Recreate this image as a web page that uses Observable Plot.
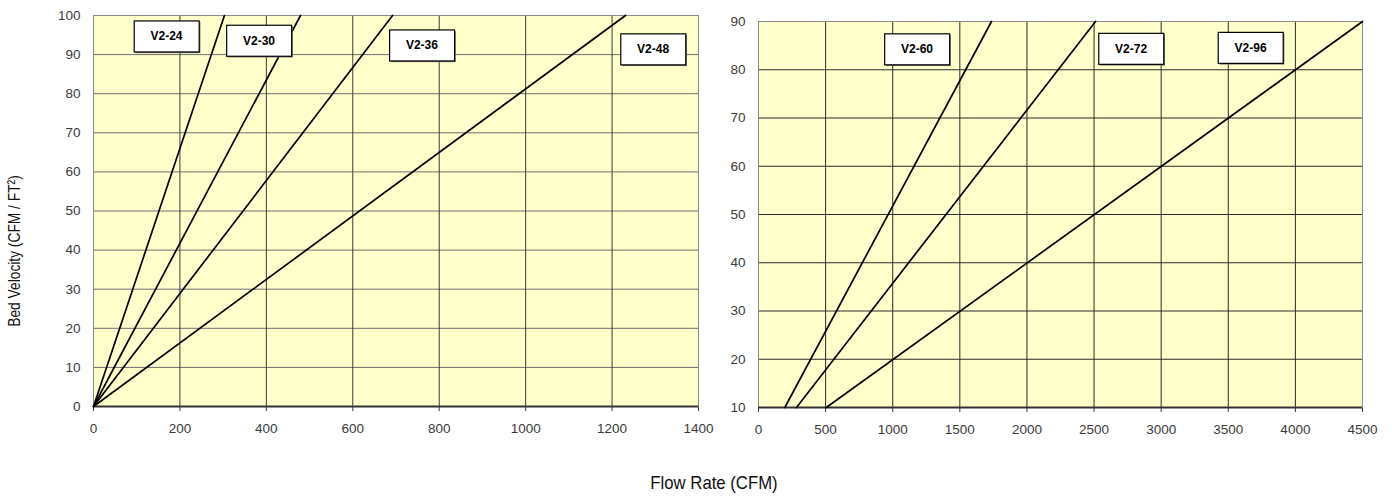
<!DOCTYPE html>
<html><head><meta charset="utf-8">
<script src="https://cdn.jsdelivr.net/npm/d3@7"></script>
<script src="https://cdn.jsdelivr.net/npm/@observablehq/plot@0.6"></script>
<style>
body{margin:0;background:#fff;font-family:"Liberation Sans",Arial,sans-serif;}
#wrap{position:relative;width:1392px;height:503px;overflow:hidden;}
#left{position:absolute;left:0;top:0;}
#right{position:absolute;left:730px;top:0;}
#ytitle{position:absolute;left:15px;top:251px;transform:translate(-50%,-50%) rotate(-90deg) scaleX(0.81);white-space:nowrap;font-size:17px;font-family:"Liberation Sans",Arial,sans-serif;color:#111;}
#xtitle{position:absolute;left:714px;top:483px;transform:translate(-50%,-50%) scaleX(0.88);white-space:nowrap;font-size:19px;font-family:"Liberation Sans",Arial,sans-serif;color:#111;}
</style></head>
<body>
<div id="wrap">
  <div id="left"></div>
  <div id="right"></div>
  <div id="ytitle">Bed Velocity (CFM / FT²)</div>
  <div id="xtitle">Flow Rate (CFM)</div>
</div>
<script>
// ---- Data ----
const leftSeries = ["V2-24", "V2-30", "V2-36", "V2-48"];
const leftStartFlow = [0, 0, 0, 0];
const leftStartVel = [0, 0, 0, 0];
const leftEndFlow = [303, 479, 692, 1231];
const leftEndVel = [100, 100, 100, 100];
const leftLabelFlow = [169, 383, 760, 1295];
const leftLabelVel = [94.6, 93.5, 92.3, 91.3];
const leftXTicks = [0, 200, 400, 600, 800, 1000, 1200, 1400];
const leftYTicks = [0, 10, 20, 30, 40, 50, 60, 70, 80, 90, 100];

const rightSeries = ["V2-60", "V2-72", "V2-96"];
const rightStartFlow = [196, 283, 505];
const rightStartVel = [10, 10, 10];
const rightEndFlow = [1736, 2511, 4500];
const rightEndVel = [90, 90, 90];
const rightLabelFlow = [1181, 2776, 3666];
const rightLabelVel = [84.2, 84.3, 84.5];
const rightXTicks = [0, 500, 1000, 1500, 2000, 2500, 3000, 3500, 4000, 4500];
const rightYTicks = [10, 20, 30, 40, 50, 60, 70, 80, 90];

function buildLines(series, sf, sv, ef, ev) {
  return series.flatMap((s, i) => [
    {series: s, flow: sf[i], vel: sv[i]},
    {series: s, flow: ef[i], vel: ev[i]}
  ]);
}
function buildLabels(series, lf, lv) {
  return series.map((s, i) => ({series: s, flow: lf[i], vel: lv[i]}));
}

function makeChart(opts) {
  const {lines, labels, xTicks, yTicks, width, height, margins, vGrid, hGrid} = opts;
  const xd = [xTicks[0], xTicks[xTicks.length - 1]];
  const yd = [yTicks[0], yTicks[yTicks.length - 1]];
  return Plot.plot({
    width, height,
    marginLeft: margins[0], marginRight: margins[1], marginTop: margins[2], marginBottom: margins[3],
    style: {fontFamily: "'Liberation Sans', Arial, sans-serif", fontSize: "13.5px", color: "#3a3a3a", background: "transparent", overflow: "visible"},
    x: {domain: xd, ticks: xTicks, tickSize: 5, tickPadding: 12, label: null, tickFormat: d => String(d)},
    y: {domain: yd, ticks: yTicks, tickSize: 0, tickPadding: 13, label: null, tickFormat: d => String(d)},
    marks: [
      Plot.frame({fill: "#FFFFCC", stroke: null}),
      Plot.ruleY(yTicks, {stroke: hGrid, strokeWidth: 1}),
      Plot.ruleX(xTicks, {stroke: vGrid, strokeWidth: 1, y1: yd[0], y2: yd[1]}),
      Plot.frame({stroke: "#8a8a8a", strokeWidth: 1}),
      Plot.ruleY([yd[0]], {stroke: "#333", strokeWidth: 2}),
      Plot.line(lines, {x: "flow", y: "vel", z: "series", stroke: "#000", strokeWidth: 1.7}),
      Plot.text(labels, {x: "flow", y: "vel", text: "series", fontWeight: "bold", fontSize: 12, fill: "#000"})
    ]
  });
}

function boxLabels(svg, names) {
  const ns = "http://www.w3.org/2000/svg";
  svg.querySelectorAll("text").forEach(t => {
    if (!names.includes(t.textContent)) return;
    const b = t.getBBox();
    const cx = b.x + b.width / 2, cy = b.y + b.height / 2;
    const w = 65, h = 31;
    const tr = t.getAttribute("transform");
    const sh = document.createElementNS(ns, "rect");
    sh.setAttribute("x", cx - w / 2 + 1.2); sh.setAttribute("y", cy - h / 2 + 1.2);
    sh.setAttribute("width", w); sh.setAttribute("height", h);
    sh.setAttribute("fill", "#777");
    const r = document.createElementNS(ns, "rect");
    r.setAttribute("x", cx - w / 2); r.setAttribute("y", cy - h / 2);
    r.setAttribute("width", w); r.setAttribute("height", h);
    r.setAttribute("fill", "#fff"); r.setAttribute("stroke", "#000"); r.setAttribute("stroke-width", 1.2);
    if (tr) { sh.setAttribute("transform", tr); r.setAttribute("transform", tr); }
    t.parentNode.insertBefore(sh, t);
    t.parentNode.insertBefore(r, t);
  });
}

const left = makeChart({
  lines: buildLines(leftSeries, leftStartFlow, leftStartVel, leftEndFlow, leftEndVel),
  labels: buildLabels(leftSeries, leftLabelFlow, leftLabelVel),
  xTicks: leftXTicks, yTicks: leftYTicks,
  width: 730, height: 440, margins: [93, 32, 15, 34],
  vGrid: "#3a3a3a", hGrid: "#6e6e6e"
});
document.getElementById("left").appendChild(left);
boxLabels(left, leftSeries);

const right = makeChart({
  lines: buildLines(rightSeries, rightStartFlow, rightStartVel, rightEndFlow, rightEndVel),
  labels: buildLabels(rightSeries, rightLabelFlow, rightLabelVel),
  xTicks: rightXTicks, yTicks: rightYTicks,
  width: 662, height: 440, margins: [28, 30, 21, 33],
  vGrid: "#2a2a2a", hGrid: "#2a2a2a"
});
document.getElementById("right").appendChild(right);
boxLabels(right, rightSeries);
</script>
</body></html>
